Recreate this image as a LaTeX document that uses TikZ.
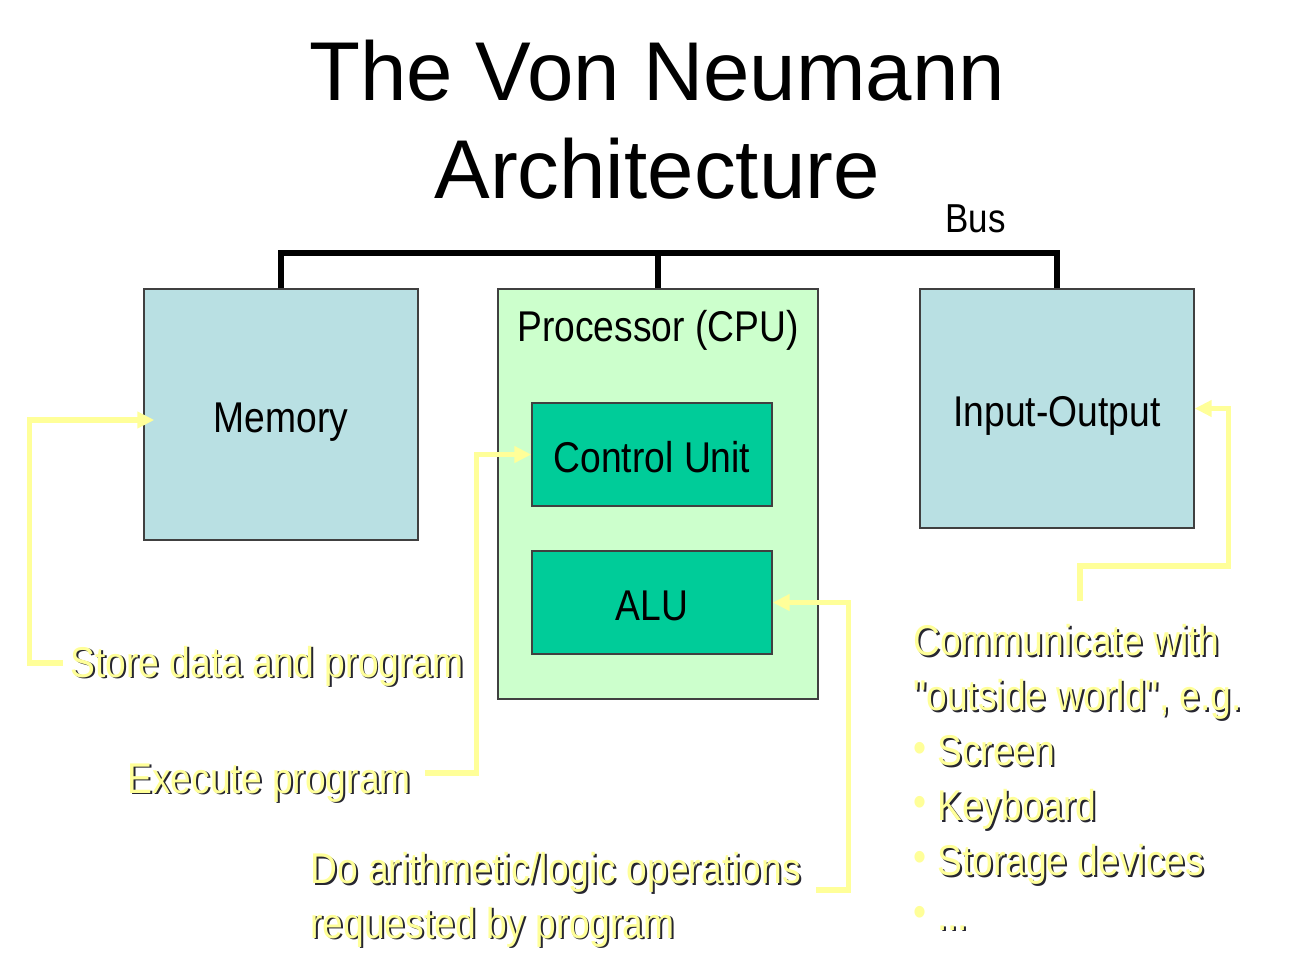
\documentclass[tikz,border=0pt]{standalone}
\usepackage{fontspec}
\setmainfont{Liberation Sans}
\newfontfamily\narrow[FakeStretch=0.865]{Liberation Sans}
\usepackage{xcolor}
\usepackage{tikz}
\usetikzlibrary{arrows.meta,calc}
\definecolor{memblue}{HTML}{B9E0E3}
\definecolor{cpugreen}{HTML}{CCFFCC}
\definecolor{unitgreen}{HTML}{00CC99}
\definecolor{noteyel}{HTML}{FFFF99}
\definecolor{shadowc}{HTML}{262630}
\definecolor{edgegray}{HTML}{404040}
\tikzset{
  ttl/.style={align=center,inner sep=0pt,font=\fontsize{47.5}{55.6}\selectfont},
  box/.style={draw=edgegray,line width=0.8pt,inner sep=0pt,text height=20.3pt,text depth=0pt,font=\narrow\fontsize{24.5}{29}\selectfont},
  lbl/.style={inner sep=0pt,font=\narrow\fontsize{24.5}{29}\selectfont},
  bus/.style={line width=3.6pt},
  feed/.style={draw=noteyel,line width=2.9pt,-{Triangle[length=9.6pt,width=9pt]}},
  note/.style={text=noteyel,inner sep=0pt,align=left,font=\narrow\fontsize{24.5}{31.2}\selectfont}
}
\newcommand{\shd}[1]{\rlap{\kern1.1pt\raisebox{-1.1pt}{\color{shadowc}#1}}#1}
\newcommand{\blt}[1]{\makebox[13.6pt][l]{\raisebox{2pt}{•}}\shd{#1}}

\begin{document}
\begin{tikzpicture}[x=0.02cm,y=-0.02cm]
\path[use as bounding box,fill=white] (0,0) rectangle (1289,975);
\node[ttl,anchor=base] (title) at (657,198) {The Von Neumann\\Architecture};
\node[box,fill=memblue,minimum width=5.48cm,minimum height=5.02cm] (mem) at (281,414.5) {Memory};
\node[box,fill=cpugreen,minimum width=6.4cm,minimum height=8.2cm] (proc) at (658,494) {};
\node[lbl,anchor=base] (cpu) at ($(proc.north)+(0,53)$) {Processor (CPU)};
\node[box,fill=unitgreen,minimum width=4.8cm,minimum height=2.06cm] (cu) at (652,454.5) {Control Unit};
\node[box,fill=unitgreen,minimum width=4.8cm,minimum height=2.06cm] (alu) at (652,602.5) {ALU};
\node[box,fill=memblue,minimum width=5.48cm,minimum height=4.78cm] (io) at (1057,408.5) {Input-Output};
\node[lbl,anchor=base west,font=\narrow\fontsize{23}{27}\selectfont] (buslbl) at (945,232) {Bus};
\draw[bus] (mem.north) -- ++(0,-35) -| (io.north);
\draw[bus] (proc.north) -- ++(0,-35);

\node[note,anchor=base west] (store) at (70,677) {\shd{Store data and program}};
\node[note,anchor=base west] (exec) at (127,793) {\shd{Execute program}};
\node[note,anchor=base west] (arith) at (310,938) {\shd{Do arithmetic/logic operations}\\\shd{requested by program}};
\node[note,anchor=base west] (comm) at (913,930) {\shd{Communicate with}\\\shd{"outside world", e.g.}\\\blt{Screen}\\\blt{Keyboard}\\\blt{Storage devices}\\\blt{...}};

\draw[feed] ($(store.base west)+(-7,-14)$) -| ($(mem.west)+(-114,5.5)$) -- ($(mem.west)+(11,5.5)$);
\draw[feed] ($(exec.base east)+(14,-20)$) -| ($(cu.west)+(-55,0)$) -- (cu.west);
\draw[feed] ($(arith.base east)+(15,-48)$) -| ($(alu.east)+(76,0)$) -- (alu.east);
\draw[feed] ($(comm.base west)+(167,-329)$) |- ($(io.east)+(34,157.5)$) |- (io.east);
\end{tikzpicture}
\end{document}
